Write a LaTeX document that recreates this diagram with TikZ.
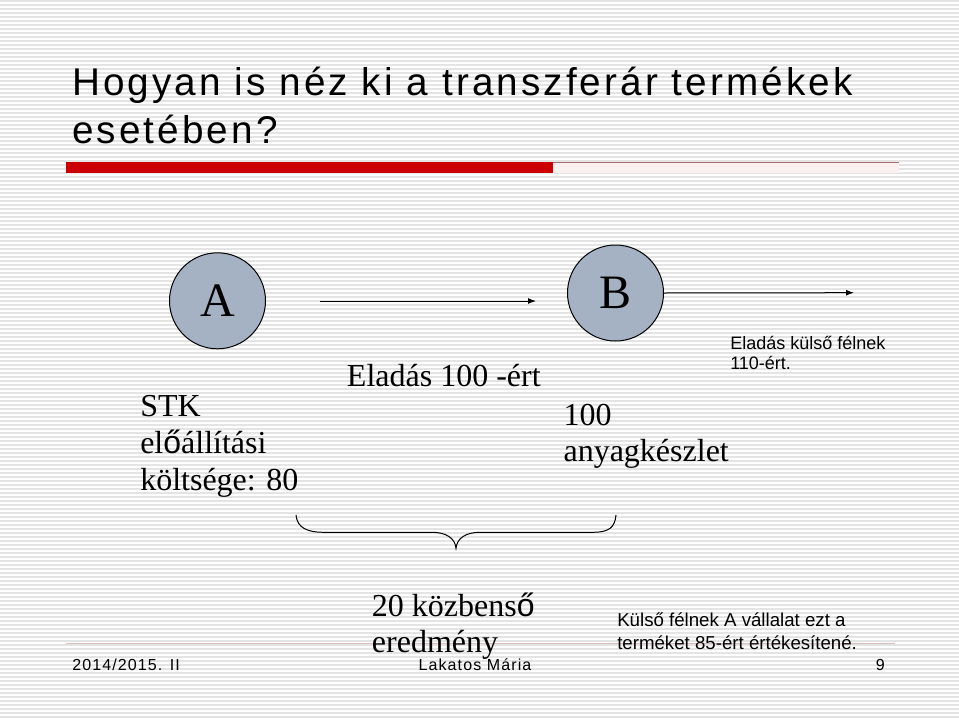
\documentclass[tikz,border=0pt]{standalone}
\usepackage{fontspec}
\setmainfont{Liberation Serif}
\setsansfont{Liberation Sans}
\newfontfamily\titlefont[LetterSpace=8]{Liberation Sans}
\newfontfamily\footfont[LetterSpace=7]{Liberation Sans}
\usetikzlibrary{arrows.meta}
\definecolor{firmfill}{RGB}{165,178,196}
\definecolor{barred}{RGB}{204,0,0}
\definecolor{barline}{RGB}{165,110,118}
\definecolor{barpink}{RGB}{250,240,240}
\definecolor{footline}{RGB}{218,190,192}
\definecolor{stripe}{RGB}{228,228,228}
\newcommand{\sfo}{{\sffamily ő}}
\tikzset{
  firm/.style={circle, draw, line width=0.75pt, fill=firmfill, minimum size=72pt,
    inner sep=0pt, font=\fontsize{36}{36}\selectfont},
  bigtxt/.style={anchor=base west, inner sep=0pt, align=left,
    font=\fontsize{24}{27.5}\selectfont},
  smalltxt/.style={anchor=base west, inner sep=0pt, align=left, font=\sffamily},
  foottxt/.style={anchor=base west, inner sep=0pt, font=\footfont\fontsize{12}{12}\selectfont},
  sale/.style={-{Latex[length=6pt,width=4.5pt]}, line width=0.75pt}
}
\begin{document}
\begin{tikzpicture}[x=0.75pt,y=-0.75pt]
  \useasboundingbox (0,0) rectangle (959,717);
  % striped slide background
  \fill[white] (0,0) rectangle (959,717);
  \foreach \y in {1,5,...,717}
    \draw[stripe, line width=1.5pt] (0,\y) -- (959,\y);
  % title and bar (multi-line nodes sit on their last baseline)
  \node[anchor=base west, inner sep=0pt, align=left,
    font=\titlefont\fontsize{29}{35.7}\selectfont] (title) at (72,143.3)
    {Hogyan is néz ki a transzferár termékek\\esetében?};
  \fill[barpink] (553,163) rectangle (899,173);
  \fill[barred] (65.5,161.7) rectangle (553,173.3);
  \draw[barline, line width=1.2pt] (553,162.5) -- (899,162.5);
  % companies
  \node[firm] (firmA) at (217.5,300.8) {A};
  \node[firm] (firmB) at (615.5,293) {B};
  \coordinate (sale1s) at (320,301);
  \coordinate (sale1e) at (536,301);
  \coordinate (sale2e) at (854,292.7);
  \draw[sale] (sale1s) -- (sale1e);
  \draw[sale] (firmB.east) -- (sale2e);
  % labels
  \node[bigtxt] (costA) at (140,490) {STK\\el\sfo állítási\\költsége: 80};
  \node[bigtxt] (price) at (346.7,386.5) {Eladás 100 -ért};
  \node[bigtxt] (stock) at (563.3,461.7) {100\\anyagkészlet};
  \node[smalltxt, font=\sffamily\fontsize{13.5}{15}\selectfont] (extsale) at (730,369)
    {Eladás külső félnek\\110-ért.};
  % brace
  \draw[line width=0.75pt] (296,515) .. controls (297,528) and (308,532.3) .. (323,532.3)
    -- (432,532.3) .. controls (446,532.3) and (455,538) .. (456,548.3)
    .. controls (457,538) and (466,532.3) .. (480,532.3) -- (593,532.3)
    .. controls (608,532.3) and (615,528) .. (616,515);
  % footer
  \draw[footline, line width=1pt] (65.5,643.3) -- (895,643.3);
  \node[bigtxt] (margin) at (371.7,652.7) {20 közbens\sfo\\eredmény};
  \node[smalltxt, font=\sffamily\fontsize{14}{16.7}\selectfont] (extprice) at (617,649)
    {Külső félnek A vállalat ezt a\\terméket 85-ért értékesítené.};
  \node[foottxt] (date) at (72,670) {2014/2015. II};
  \node[foottxt] (author) at (418.3,670) {Lakatos Mária};
  \node[foottxt] (page) at (875.7,670) {9};
\end{tikzpicture}
\end{document}
